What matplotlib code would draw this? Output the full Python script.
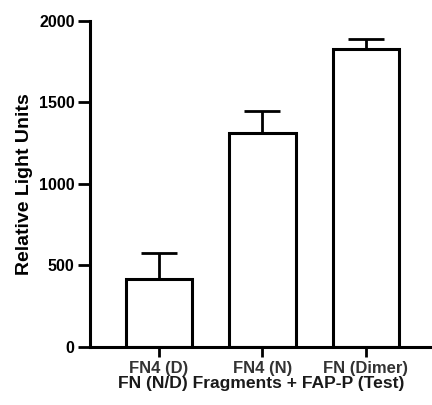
import numpy as np
import matplotlib.pyplot as plt

#--------------------------------------------
# Luminescence readout per FN fragment
#--------------------------------------------

groups = ['FN4 (D)', 'FN4 (N)', 'FN (Dimer)']
rlu_mean = [413, 1309, 1826]
rlu_err = [160, 136, 60]
y_ticks = [0, 500, 1000, 1500, 2000]

fig = plt.figure(figsize=(4.32, 4.05), dpi=100)
ax = fig.add_axes([0.208, 0.144, 0.792, 0.805])

x = np.arange(len(groups))
ax.bar(x, rlu_mean, width=0.64, color='white', edgecolor='black',
       linewidth=2.2, zorder=2)
# upper error bars only
ax.errorbar(x, rlu_mean, yerr=[np.zeros(len(rlu_err)), rlu_err],
            fmt='none', ecolor='black', elinewidth=2.0, capsize=13,
            capthick=2.0, zorder=1)

ax.set_xlim(-0.67, 2.64)
ax.set_ylim(0, 2000)
ax.set_yticks(y_ticks)
ax.set_yticklabels([str(t) for t in y_ticks], fontfamily='Liberation Sans',
                   fontweight='bold', fontsize=11.5)
ax.set_xticks(x)
ax.set_xticklabels(groups, fontfamily='Liberation Sans', fontweight='bold',
                   fontsize=12, color='#333333')

ax.set_ylabel('Relative Light Units', fontfamily='Liberation Sans',
              fontweight='bold', fontsize=14, labelpad=4)
ax.set_xlabel('FN (N/D) Fragments + FAP-P (Test)', fontfamily='Liberation Sans',
              fontweight='bold', fontsize=12.6, color='#1a1a1a', labelpad=0)

for s in ['top', 'right']:
    ax.spines[s].set_visible(False)
for s in ['left', 'bottom']:
    ax.spines[s].set_linewidth(2.2)
ax.tick_params(axis='both', width=2.0, direction='out')
ax.tick_params(axis='y', length=9, pad=2)
ax.tick_params(axis='x', length=7, pad=3)

plt.savefig('out.png', dpi=100)
